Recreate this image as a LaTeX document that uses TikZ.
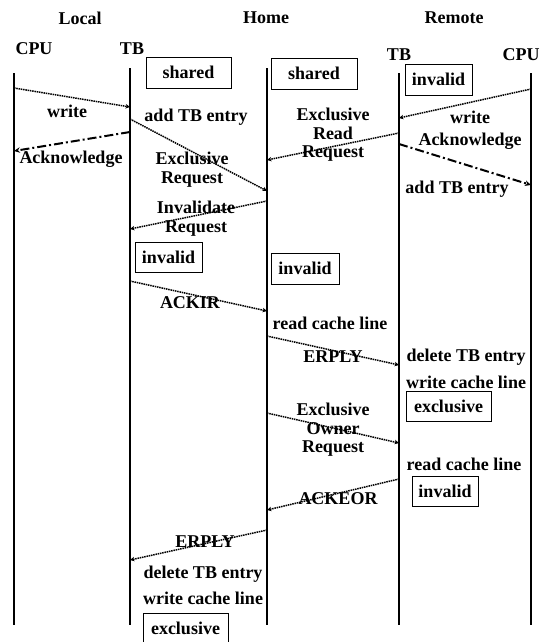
\documentclass[tikz,border=0pt]{standalone}
\usepackage{fontspec}
\setmainfont{Liberation Serif}
\usetikzlibrary{arrows.meta}
\tikzset{lbl/.style={font=\fontsize{18}{18.5}\selectfont\bfseries, inner sep=0pt, align=center},
% boxes holding the cache line state
state/.style={lbl, draw, line width=0.8pt, minimum height=31pt},
life/.style={line width=2pt},
req/.style={line width=1.5pt, dash pattern=on 1.5pt off 0.8pt, -{Stealth[length=4.5pt,width=4.5pt]}},
ack/.style={line width=2pt, dash pattern=on 9pt off 3pt on 2pt off 3pt, -{Stealth[length=6pt,width=5.5pt]}}}

\begin{document}
\begin{tikzpicture}[x=1pt,y=-1pt]
\useasboundingbox (0,0) rectangle (555,642);

% sides
\node[lbl] (local) at (80,18) {Local};
\node[lbl] (home) at (266,18) {Home};
\node[lbl] (remote) at (454,18) {Remote};
\node[lbl] (lcpuname) at (34,49) {CPU};
\node[lbl] (ltbname) at (132,49) {TB};
\node[lbl] (rtbname) at (399,55) {TB};
\node[lbl] (rcpuname) at (521,55) {CPU};

% life lines
\foreach \n/\x/\t in {lcpu/14/73, ltb/130/68, hm/267/68, rtb/399/73, rcpu/531/73}
{
  \coordinate (\n) at (\x,0);
  \draw[life] ([yshift=-\t pt]\n) -- ([yshift=-625pt]\n);
}

% messages
\foreach \a/\ya/\b/\yb/\s in {lcpu/88/ltb/107/req, ltb/132/lcpu/151/ack,
  ltb/119/hm/191/req, rtb/133/hm/160/req, rcpu/89/rtb/118/req,
  rtb/144/rcpu/185/ack, hm/201/ltb/229/req, ltb/281/hm/311/req,
  hm/336/rtb/365/req, hm/413/rtb/443/req, rtb/479/hm/510/req,
  hm/530/ltb/560/req}
  \draw[style=\s] ([yshift=-\ya pt]\a) -- ([yshift=-\yb pt]\b);

% states
\node[state, minimum width=85pt] (shl) at (188.5,72.5) {shared};
\node[state, minimum width=86pt] (shh) at (314,73.5) {shared};
\node[state, minimum width=67pt] (inr) at (438.5,79.5) {invalid};
\node[state, minimum width=67pt, minimum height=30pt] (inl) at (168.5,257) {invalid};
\node[state, minimum width=68pt] (inh) at (305,268.5) {invalid};
\node[state, minimum width=85pt, minimum height=30pt] (exr) at (448.5,406) {exclusive};
\node[state, minimum width=66pt, minimum height=30pt] (inr2) at (445,491) {invalid};
\node[state, minimum width=85pt] (exl) at (185.5,628.5) {exclusive};

% labels
\node[lbl] (wrl) at (67,111) {write};
\node[lbl] (addl) at (196,117) {add TB entry};
\node[lbl] (ackl) at (71,159) {Acknowledge};
\node[lbl] (exreq) at (192,169.5) {Exclusive\\Request};
\node[lbl] (exrd) at (333,135) {Exclusive\\Read\\Request};
\node[lbl] (wrr) at (470,117) {write};
\node[lbl] (ackr) at (470,141) {Acknowledge};
\node[lbl] (addr) at (457,189) {add TB entry};
\node[lbl] (invreq) at (196,218.5) {Invalidate\\Request};
\node[lbl] (ackir) at (190,303) {ACKIR};
\node[lbl] (rdh) at (330,323) {read cache line};
\node[lbl] (erh) at (333,357) {ERPLY};
\node[lbl] (delr) at (466,357) {delete TB entry};
\node[lbl] (wcr) at (466,382) {write cache line};
\node[lbl] (exown) at (333,430) {Exclusive\\Owner\\Request};
\node[lbl] (rdr) at (464,464) {read cache line};
\node[lbl] (ackeor) at (338,499) {ACKEOR};
\node[lbl] (erl) at (205,542) {ERPLY};
\node[lbl] (dell) at (203,574) {delete TB entry};
\node[lbl] (wcl) at (203,598) {write cache line};

\end{tikzpicture}
\end{document}
